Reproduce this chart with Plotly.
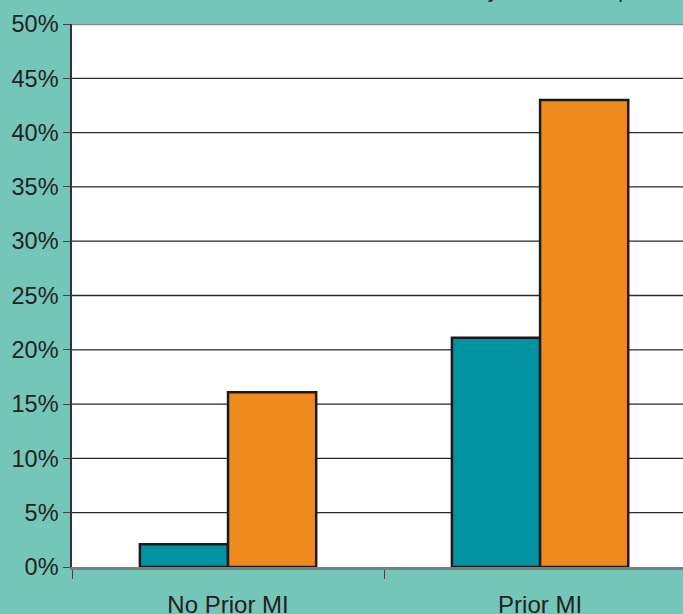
import plotly.graph_objects as go

# Event rates by prior myocardial infarction status
categories = ["No Prior MI", "Prior MI"]
series_a = [0.021, 0.211]   # teal bars
series_b = [0.161, 0.430]   # orange bars
y_ticks = [0, 0.05, 0.10, 0.15, 0.20, 0.25, 0.30, 0.35, 0.40, 0.45, 0.50]
y_tick_text = ["0%", "5%", "10%", "15%", "20%", "25%", "30%", "35%", "40%", "45%", "50%"]
title_text = "Rates of cardiovascular events at 1 year follow-up"

BG = "#74c6b8"
FONT = "Liberation Sans, Arial, sans-serif"

fig = go.Figure()
fig.add_trace(go.Bar(
    x=categories, y=series_a, name="A",
    marker=dict(color="#0193a1", line=dict(color="#1a1a1a", width=2.5)),
))
fig.add_trace(go.Bar(
    x=categories, y=series_b, name="B",
    marker=dict(color="#f08a1e", line=dict(color="#1a1a1a", width=2.5)),
))

# horizontal rules at each 5% step
for v in y_ticks[1:-1]:
    fig.add_shape(type="line", xref="paper", yref="y", x0=0, x1=1, y0=v, y1=v,
                  line=dict(color="#2a2a2a", width=1.3), layer="below")
fig.add_shape(type="line", xref="paper", yref="y", x0=0, x1=1, y0=0.5, y1=0.5,
              line=dict(color="#858a8c", width=2.5), layer="above")

fig.add_annotation(text=title_text, xref="paper", yref="paper", x=0.499, y=1.036,
                   xanchor="center", yanchor="bottom", showarrow=False,
                   font=dict(family=FONT, size=23, color="#333333"))

fig.update_layout(
    width=683, height=614,
    margin=dict(l=72, r=0, t=24, b=47),
    paper_bgcolor=BG, plot_bgcolor="#ffffff",
    barmode="group", bargap=0.435, bargroupgap=0,
    showlegend=False,
    font=dict(family=FONT, size=23.5, color="#222222"),
    xaxis=dict(
        type="category", range=[-0.5, 1.458], automargin=False,
        tickson="boundaries", ticks="outside", ticklen=9, tickwidth=1, tickcolor="#444",
        ticklabelstandoff=14, tickfont=dict(size=24),
        showline=True, linecolor="#7a7f80", linewidth=2.5,
        showgrid=False, zeroline=False,
    ),
    yaxis=dict(
        range=[0, 0.5], tickvals=y_ticks, ticktext=y_tick_text, automargin=False,
        ticks="outside", ticklen=7, tickwidth=1, tickcolor="#444",
        showline=True, linecolor="#333333", linewidth=1.5,
        showgrid=False, zeroline=False,
    ),
)

fig.write_html("out.html")
